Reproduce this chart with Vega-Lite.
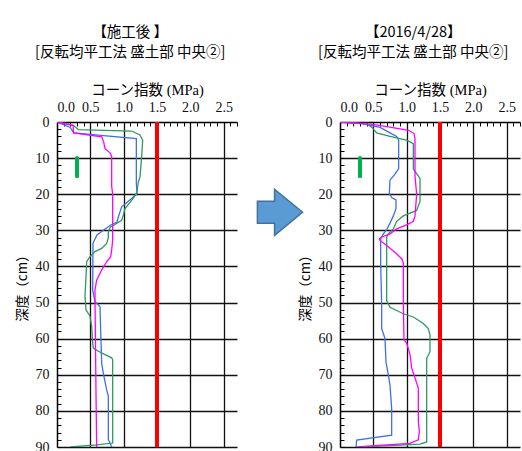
{
  "$schema": "https://vega.github.io/schema/vega-lite/v6.json",
  "padding": {"left": 15, "top": 24, "right": 0, "bottom": 0},
  "background": "white",
  "config": {
    "view": {"stroke": null},
    "font": "Noto Sans CJK JP",
    "title": {"font": "Noto Sans CJK JP", "fontSize": 14.5, "fontWeight": "normal", "color": "#000", "lineHeight": 20, "anchor": "middle", "frame": "bounds", "offset": 22, "dx": 4}
  },
  "datasets": {
    "after": [
      {"s":"blue","i":1,"x":0,"depth":0},{"s":"blue","i":2,"x":0.2,"depth":1.5},{"s":"blue","i":3,"x":0.25,"depth":3.0},{"s":"blue","i":4,"x":1.19,"depth":4.6},{"s":"blue","i":5,"x":1.19,"depth":17},{"s":"blue","i":6,"x":1.2,"depth":19.8},{"s":"blue","i":7,"x":1.12,"depth":21.2},{"s":"blue","i":8,"x":0.97,"depth":23.5},{"s":"blue","i":9,"x":0.92,"depth":26.3},{"s":"blue","i":10,"x":0.9,"depth":27.7},{"s":"blue","i":11,"x":0.8,"depth":28.6},{"s":"blue","i":12,"x":0.68,"depth":30.2},{"s":"blue","i":13,"x":0.6,"depth":31.3},{"s":"blue","i":14,"x":0.54,"depth":33.6},{"s":"blue","i":15,"x":0.535,"depth":46.5},{"s":"blue","i":16,"x":0.57,"depth":49.8},{"s":"blue","i":17,"x":0.645,"depth":51.1},{"s":"blue","i":18,"x":0.655,"depth":57.6},{"s":"blue","i":19,"x":0.67,"depth":66.8},{"s":"blue","i":20,"x":0.695,"depth":69.6},{"s":"blue","i":21,"x":0.745,"depth":74.2},{"s":"blue","i":22,"x":0.77,"depth":76},{"s":"blue","i":23,"x":0.77,"depth":87.9},{"s":"blue","i":24,"x":0.795,"depth":88.9},{"s":"blue","i":25,"x":0.82,"depth":90},
      {"s":"green","i":1,"x":0,"depth":0},{"s":"green","i":2,"x":0.245,"depth":0.9},{"s":"green","i":3,"x":0.32,"depth":2.1},{"s":"green","i":4,"x":1.12,"depth":2.5},{"s":"green","i":5,"x":1.245,"depth":3.6},{"s":"green","i":6,"x":1.285,"depth":5},{"s":"green","i":7,"x":1.27,"depth":9.6},{"s":"green","i":8,"x":1.245,"depth":15.2},{"s":"green","i":9,"x":1.22,"depth":16.6},{"s":"green","i":10,"x":1.195,"depth":19.8},{"s":"green","i":11,"x":1.12,"depth":21.7},{"s":"green","i":12,"x":1.02,"depth":24},{"s":"green","i":13,"x":0.995,"depth":25.8},{"s":"green","i":14,"x":0.97,"depth":27.2},{"s":"green","i":15,"x":0.8,"depth":29.1},{"s":"green","i":16,"x":0.77,"depth":30.4},{"s":"green","i":17,"x":0.77,"depth":32},{"s":"green","i":18,"x":0.745,"depth":33.6},{"s":"green","i":19,"x":0.67,"depth":35},{"s":"green","i":20,"x":0.57,"depth":35.9},{"s":"green","i":21,"x":0.495,"depth":37.3},{"s":"green","i":22,"x":0.445,"depth":38.7},{"s":"green","i":23,"x":0.435,"depth":42.8},{"s":"green","i":24,"x":0.42,"depth":48.3},{"s":"green","i":25,"x":0.435,"depth":52},{"s":"green","i":26,"x":0.495,"depth":53.8},{"s":"green","i":27,"x":0.52,"depth":56.6},{"s":"green","i":28,"x":0.535,"depth":61.2},{"s":"green","i":29,"x":0.545,"depth":62.6},{"s":"green","i":30,"x":0.62,"depth":63.5},{"s":"green","i":31,"x":0.72,"depth":64.4},{"s":"green","i":32,"x":0.82,"depth":65.3},{"s":"green","i":33,"x":0.835,"depth":65.8},{"s":"green","i":34,"x":0.835,"depth":88.9},{"s":"green","i":35,"x":0.6,"depth":89.4},{"s":"green","i":36,"x":0.2,"depth":90},
      {"s":"magenta","i":1,"x":0,"depth":0},{"s":"magenta","i":2,"x":0.24,"depth":0.9},{"s":"magenta","i":3,"x":0.25,"depth":3.0},{"s":"magenta","i":4,"x":0.67,"depth":4.1},{"s":"magenta","i":5,"x":0.7,"depth":5.5},{"s":"magenta","i":6,"x":0.72,"depth":7.4},{"s":"magenta","i":7,"x":0.8,"depth":8.6},{"s":"magenta","i":8,"x":0.82,"depth":9.6},{"s":"magenta","i":9,"x":0.82,"depth":17.8},{"s":"magenta","i":10,"x":0.835,"depth":20},{"s":"magenta","i":11,"x":0.835,"depth":32.7},{"s":"magenta","i":12,"x":0.82,"depth":35.5},{"s":"magenta","i":13,"x":0.805,"depth":37.3},{"s":"magenta","i":14,"x":0.745,"depth":38.7},{"s":"magenta","i":15,"x":0.67,"depth":41},{"s":"magenta","i":16,"x":0.595,"depth":43.8},{"s":"magenta","i":17,"x":0.57,"depth":46.5},{"s":"magenta","i":18,"x":0.57,"depth":49.3},{"s":"magenta","i":19,"x":0.585,"depth":75.1},{"s":"magenta","i":20,"x":0.595,"depth":90}
    ],
    "later": [
      {"s":"blue","i":1,"x":0,"depth":0},{"s":"blue","i":2,"x":0.35,"depth":0.5},{"s":"blue","i":3,"x":0.6,"depth":1.5},{"s":"blue","i":4,"x":0.75,"depth":3},{"s":"blue","i":5,"x":0.85,"depth":4},{"s":"blue","i":6,"x":0.88,"depth":5},{"s":"blue","i":7,"x":0.88,"depth":12.9},{"s":"blue","i":8,"x":0.83,"depth":14.3},{"s":"blue","i":9,"x":0.75,"depth":16.1},{"s":"blue","i":10,"x":0.74,"depth":19.9},{"s":"blue","i":11,"x":0.78,"depth":21},{"s":"blue","i":12,"x":0.84,"depth":21.6},{"s":"blue","i":13,"x":0.84,"depth":24},{"s":"blue","i":14,"x":0.8,"depth":26},{"s":"blue","i":15,"x":0.75,"depth":28},{"s":"blue","i":16,"x":0.7,"depth":29.8},{"s":"blue","i":17,"x":0.65,"depth":31},{"s":"blue","i":18,"x":0.61,"depth":32.4},{"s":"blue","i":19,"x":0.61,"depth":38.9},{"s":"blue","i":20,"x":0.625,"depth":50.8},{"s":"blue","i":21,"x":0.625,"depth":57.2},{"s":"blue","i":22,"x":0.675,"depth":60},{"s":"blue","i":23,"x":0.69,"depth":66.5},{"s":"blue","i":24,"x":0.725,"depth":70},{"s":"blue","i":25,"x":0.75,"depth":72.9},{"s":"blue","i":26,"x":0.775,"depth":79.3},{"s":"blue","i":27,"x":0.775,"depth":86.7},{"s":"blue","i":28,"x":0.25,"depth":88.1},{"s":"blue","i":29,"x":0.24,"depth":90},
      {"s":"green","i":1,"x":0,"depth":0},{"s":"green","i":2,"x":0.4,"depth":0.5},{"s":"green","i":3,"x":0.48,"depth":1.5},{"s":"green","i":4,"x":0.55,"depth":3},{"s":"green","i":5,"x":0.75,"depth":4},{"s":"green","i":6,"x":1.0,"depth":5},{"s":"green","i":7,"x":1.1,"depth":6},{"s":"green","i":8,"x":1.1,"depth":13},{"s":"green","i":9,"x":1.2,"depth":15.6},{"s":"green","i":10,"x":1.2,"depth":22},{"s":"green","i":11,"x":1.15,"depth":24.5},{"s":"green","i":12,"x":0.95,"depth":26},{"s":"green","i":13,"x":0.85,"depth":27.5},{"s":"green","i":14,"x":0.8,"depth":29.6},{"s":"green","i":15,"x":0.725,"depth":31},{"s":"green","i":16,"x":0.7,"depth":31.9},{"s":"green","i":17,"x":0.7,"depth":49.5},{"s":"green","i":18,"x":0.75,"depth":51.3},{"s":"green","i":19,"x":0.95,"depth":53.1},{"s":"green","i":20,"x":1.1,"depth":54},{"s":"green","i":21,"x":1.25,"depth":55.8},{"s":"green","i":22,"x":1.325,"depth":57.2},{"s":"green","i":23,"x":1.35,"depth":59},{"s":"green","i":24,"x":1.35,"depth":63.6},{"s":"green","i":25,"x":1.3,"depth":65.5},{"s":"green","i":26,"x":1.3,"depth":88.6},{"s":"green","i":27,"x":1.2,"depth":89.2},{"s":"green","i":28,"x":0.3,"depth":90},
      {"s":"magenta","i":1,"x":0,"depth":0},{"s":"magenta","i":2,"x":0.45,"depth":0.6},{"s":"magenta","i":3,"x":0.68,"depth":1.2},{"s":"magenta","i":4,"x":1.03,"depth":2.3},{"s":"magenta","i":5,"x":1.11,"depth":3.2},{"s":"magenta","i":6,"x":1.125,"depth":4.6},{"s":"magenta","i":7,"x":1.125,"depth":15},{"s":"magenta","i":8,"x":1.15,"depth":20},{"s":"magenta","i":9,"x":1.125,"depth":26},{"s":"magenta","i":10,"x":1.1,"depth":27.5},{"s":"magenta","i":11,"x":1.0,"depth":28.5},{"s":"magenta","i":12,"x":0.85,"depth":29.6},{"s":"magenta","i":13,"x":0.75,"depth":31},{"s":"magenta","i":14,"x":0.62,"depth":31.9},{"s":"magenta","i":15,"x":0.59,"depth":32.4},{"s":"magenta","i":16,"x":0.6,"depth":32.8},{"s":"magenta","i":17,"x":0.7,"depth":34.2},{"s":"magenta","i":18,"x":0.85,"depth":36.5},{"s":"magenta","i":19,"x":0.93,"depth":38},{"s":"magenta","i":20,"x":0.95,"depth":39},{"s":"magenta","i":21,"x":0.95,"depth":49.4},{"s":"magenta","i":22,"x":0.96,"depth":60.3},{"s":"magenta","i":23,"x":1.0,"depth":61.2},{"s":"magenta","i":24,"x":1.05,"depth":64.4},{"s":"magenta","i":25,"x":1.075,"depth":68.1},{"s":"magenta","i":26,"x":1.125,"depth":70.9},{"s":"magenta","i":27,"x":1.175,"depth":73.7},{"s":"magenta","i":28,"x":1.175,"depth":82.9},{"s":"magenta","i":29,"x":1.19,"depth":85.7},{"s":"magenta","i":30,"x":1.175,"depth":88},{"s":"magenta","i":31,"x":1.05,"depth":89},{"s":"magenta","i":32,"x":0.25,"depth":90}
    ],
    "limit": [{"x": 1.5, "depth": 0, "depth2": 90}],
    "mark": [{"x": 0.3, "depth": 10, "depth2": 15}],
    "arrow": [{"pos": 0.36, "depth": 25}]
  },
  "bounds": "flush",
  "spacing": 21,
  "hconcat": [
    {
      "width": 180, "height": 325,
      "title": {"text": ["【施工後 】", "[反転均平工法 盛土部 中央②]"]},
      "encoding": {
        "x": {"field": "x", "type": "quantitative", "scale": {"domain": [0, 2.7], "nice": false, "zero": false}, "title": "コーン指数 (MPa)",
          "axis": {
            "orient": "top",
            "values": [0,0.1,0.2,0.3,0.4,0.5,0.6,0.7,0.8,0.9,1,1.1,1.2,1.3,1.4,1.5,1.6,1.7,1.8,1.9,2,2.1,2.2,2.3,2.4,2.5,2.6,2.7],
            "labelExpr": "abs(datum.value*2 - round(datum.value*2)) < 0.001 ? format(datum.value, '.1f') : ''",
            "grid": true,
            "gridOpacity": {"condition": {"test": "abs(datum.value*2 - round(datum.value*2)) < 0.001 && datum.value > 0", "value": 1}, "value": 0},
            "gridColor": "#111", "gridWidth": 1.3,
            "domainColor": "#000", "domainWidth": 1.5,
            "ticks": true, "tickColor": "#000", "tickSize": -4, "tickWidth": 1,
            "labelPadding": 12, "labelFont": "Liberation Serif", "labelFontSize": 14, "labelColor": "#111",
            "labelOverlap": false, "labelFlush": true, "labelAngle": 0,
            "titleFont": "Liberation Serif, Noto Sans CJK JP", "titleFontSize": 14.5, "titleFontWeight": "normal", "titleColor": "#000", "titlePadding": 3
          }
        },
        "y": {"field": "depth", "type": "quantitative", "scale": {"domain": [0, 90], "reverse": true, "nice": false, "zero": false}, "title": "深度（cm）",
          "axis": {
            "values": [0,2,4,6,8,10,12,14,16,18,20,22,24,26,28,30,32,34,36,38,40,42,44,46,48,50,52,54,56,58,60,62,64,66,68,70,72,74,76,78,80,82,84,86,88,90],
            "labelExpr": "datum.value % 10 === 0 ? datum.label : ''",
            "grid": true,
            "gridOpacity": {"condition": {"test": "datum.value % 10 === 0 && datum.value > 0", "value": 1}, "value": 0},
            "gridColor": "#111", "gridWidth": 1.3,
            "domainColor": "#000", "domainWidth": 1.5,
            "ticks": true, "tickColor": "#000", "tickSize": -4, "tickWidth": 1,
            "labelPadding": 12, "labelFont": "Liberation Serif", "labelFontSize": 14, "labelColor": "#111",
            "labelOverlap": false, "labelFlush": false,
            "titleFont": "Noto Sans CJK JP", "titleFontSize": 13.5, "titleFontWeight": "normal", "titleColor": "#000", "titlePadding": 6
          }
        }
      },
      "layer": [
        {
          "data": {"name": "after"},
          "mark": {"type": "line", "strokeWidth": 1.3, "clip": true},
          "encoding": {
            "color": {"field": "s", "type": "nominal", "scale": {"domain": ["blue", "magenta", "green"], "range": ["#3f6fe8", "#ff00ff", "#2e9960"]}, "legend": null},
            "detail": {"field": "s"},
            "order": {"field": "i", "type": "quantitative"}
          }
        },
        {
          "data": {"name": "limit"},
          "mark": {"type": "rule", "color": "#ff0000", "strokeWidth": 4},
          "encoding": {"y2": {"field": "depth2"}}
        },
        {
          "data": {"name": "mark"},
          "mark": {"type": "rule", "color": "#00b050", "strokeWidth": 4, "strokeCap": "round"},
          "encoding": {"y2": {"field": "depth2"}}
        }
      ]
    },
    {
      "width": 61, "height": 325,
      "data": {"name": "arrow"},
      "mark": {"type": "point", "shape": "M -0.96 -0.47 L -0.23 -0.47 L -0.23 -0.98 L 0.96 0 L -0.23 0.98 L -0.23 0.47 L -0.96 0.47 Z", "size": 2209, "filled": true, "fill": "#5b9bd5", "stroke": "#41719c", "strokeWidth": 1.5, "opacity": 1},
      "encoding": {
        "x": {"field": "pos", "type": "quantitative", "scale": {"domain": [0, 1]}, "axis": null},
        "y": {"field": "depth", "type": "quantitative", "scale": {"domain": [0, 90], "reverse": true}, "axis": null}
      }
    },
    {
      "width": 180, "height": 325,
      "title": {"text": ["【2016/4/28】", "[反転均平工法 盛土部 中央②]"]},
      "encoding": {
        "x": {"field": "x", "type": "quantitative", "scale": {"domain": [0, 2.7], "nice": false, "zero": false}, "title": "コーン指数 (MPa)",
          "axis": {
            "orient": "top",
            "values": [0,0.1,0.2,0.3,0.4,0.5,0.6,0.7,0.8,0.9,1,1.1,1.2,1.3,1.4,1.5,1.6,1.7,1.8,1.9,2,2.1,2.2,2.3,2.4,2.5,2.6,2.7],
            "labelExpr": "abs(datum.value*2 - round(datum.value*2)) < 0.001 ? format(datum.value, '.1f') : ''",
            "grid": true,
            "gridOpacity": {"condition": {"test": "abs(datum.value*2 - round(datum.value*2)) < 0.001 && datum.value > 0", "value": 1}, "value": 0},
            "gridColor": "#111", "gridWidth": 1.3,
            "domainColor": "#000", "domainWidth": 1.5,
            "ticks": true, "tickColor": "#000", "tickSize": -4, "tickWidth": 1,
            "labelPadding": 12, "labelFont": "Liberation Serif", "labelFontSize": 14, "labelColor": "#111",
            "labelOverlap": false, "labelFlush": true, "labelAngle": 0,
            "titleFont": "Liberation Serif, Noto Sans CJK JP", "titleFontSize": 14.5, "titleFontWeight": "normal", "titleColor": "#000", "titlePadding": 3
          }
        },
        "y": {"field": "depth", "type": "quantitative", "scale": {"domain": [0, 90], "reverse": true, "nice": false, "zero": false}, "title": "深度（cm）",
          "axis": {
            "values": [0,2,4,6,8,10,12,14,16,18,20,22,24,26,28,30,32,34,36,38,40,42,44,46,48,50,52,54,56,58,60,62,64,66,68,70,72,74,76,78,80,82,84,86,88,90],
            "labelExpr": "datum.value % 10 === 0 ? datum.label : ''",
            "grid": true,
            "gridOpacity": {"condition": {"test": "datum.value % 10 === 0 && datum.value > 0", "value": 1}, "value": 0},
            "gridColor": "#111", "gridWidth": 1.3,
            "domainColor": "#000", "domainWidth": 1.5,
            "ticks": true, "tickColor": "#000", "tickSize": -4, "tickWidth": 1,
            "labelPadding": 12, "labelFont": "Liberation Serif", "labelFontSize": 14, "labelColor": "#111",
            "labelOverlap": false, "labelFlush": false,
            "titleFont": "Noto Sans CJK JP", "titleFontSize": 13.5, "titleFontWeight": "normal", "titleColor": "#000", "titlePadding": 6
          }
        }
      },
      "layer": [
        {
          "data": {"name": "later"},
          "mark": {"type": "line", "strokeWidth": 1.3, "clip": true},
          "encoding": {
            "color": {"field": "s", "type": "nominal", "scale": {"domain": ["blue", "magenta", "green"], "range": ["#3f6fe8", "#ff00ff", "#2e9960"]}, "legend": null},
            "detail": {"field": "s"},
            "order": {"field": "i", "type": "quantitative"}
          }
        },
        {
          "data": {"name": "limit"},
          "mark": {"type": "rule", "color": "#ff0000", "strokeWidth": 4},
          "encoding": {"y2": {"field": "depth2"}}
        },
        {
          "data": {"name": "mark"},
          "mark": {"type": "rule", "color": "#00b050", "strokeWidth": 4, "strokeCap": "round"},
          "encoding": {"y2": {"field": "depth2"}}
        }
      ]
    }
  ]
}
